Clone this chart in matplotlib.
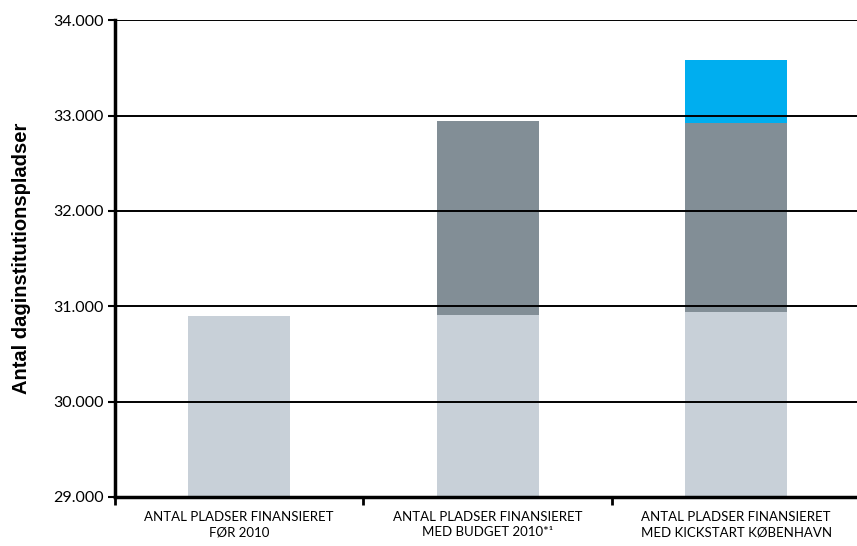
import numpy as np
import matplotlib.pyplot as plt
from matplotlib.ticker import FuncFormatter

categories = ['ANTAL PLADSER FINANSIERET\nFØR 2010',
              'ANTAL PLADSER FINANSIERET\nMED BUDGET 2010*¹',
              'ANTAL PLADSER FINANSIERET\nMED KICKSTART KØBENHAVN']
base = [30900, 30910, 30935]
budget = [0, 2030, 1985]
kickstart = [0, 0, 660]

col_base = '#c8d0d8'
col_budget = '#828e96'
col_kick = '#00aeef'

fig = plt.figure(figsize=(8.57, 5.46), dpi=100)
ax = fig.add_axes([0.134, 0.09, 0.87, 0.873])

x = np.arange(len(categories))
w = 0.41
ax.bar(x, base, w, color=col_base, zorder=1)
ax.bar(x, budget, w, bottom=base, color=col_budget, zorder=1)
ax.bar(x, kickstart, w, bottom=np.array(base) + np.array(budget), color=col_kick, zorder=1)

ax.set_ylim(29000, 34000)
ax.set_xlim(-0.5, 2.5)
ax.set_yticks(np.arange(29000, 34001, 1000))
ax.yaxis.set_major_formatter(FuncFormatter(lambda v, p: f'{int(v):,}'.replace(',', '.')))
ax.grid(axis='y', color='black', linewidth=1.4, zorder=2)
ax.set_axisbelow(False)

ax.set_xticks([-0.5, 0.5, 1.5, 2.5])
ax.set_xticklabels([])
ax.set_xticks(x, minor=True)
ax.set_xticklabels(categories, minor=True, fontsize=9.5, family='Lato', linespacing=1.35)
ax.tick_params(axis='x', which='minor', length=0, pad=10)
ax.tick_params(axis='x', which='major', length=6, width=2, direction='out')
ax.tick_params(axis='y', length=5, width=1.5, labelsize=11.5, pad=3)
for lbl in ax.get_yticklabels():
    lbl.set_family('Lato')

for s in ['top', 'right']:
    ax.spines[s].set_visible(False)
for s in ['left', 'bottom']:
    ax.spines[s].set_linewidth(2.5)
    ax.spines[s].set_zorder(3)

ax.set_ylabel('Antal daginstitutionspladser', fontsize=14.5, fontweight='bold',
              family='Liberation Sans', labelpad=16)

fig.savefig('out.png', dpi=100)
